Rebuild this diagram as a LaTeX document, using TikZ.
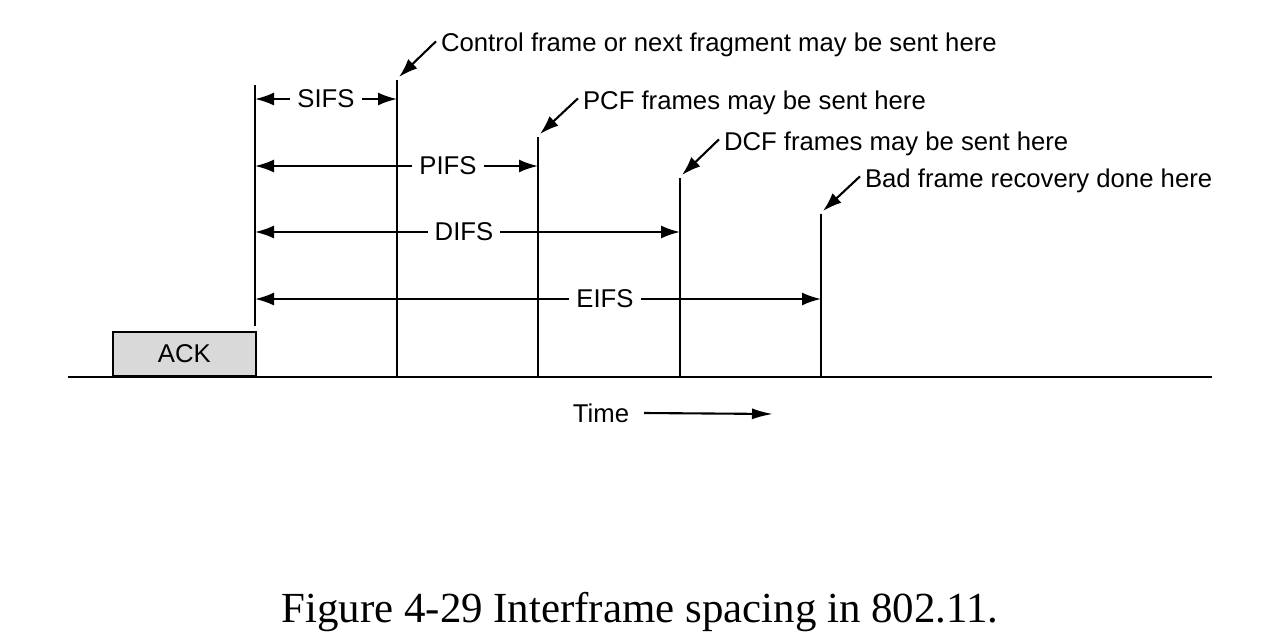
\documentclass[tikz,border=0pt]{standalone}
\usepackage{fontspec}
\setmainfont{Liberation Sans}
\newfontfamily\capfont{Liberation Serif}
\usetikzlibrary{arrows.meta}
\begin{document}
\begin{tikzpicture}[x=1pt,y=-1pt, line width=2.1pt,
  txt/.style={font=\fontsize{25.7}{30}\selectfont, inner sep=0pt},
  lab/.style={txt, anchor=base west},
  dim/.style={txt, inner sep=6pt},
  tip/.style={-{Latex[length=19pt,width=13pt]}},
  ttip/.style={-{Latex[length=21pt,width=11pt]}}]
\useasboundingbox (0,0) rectangle (1280,642);

% vertical lines
\coordinate (t0) at (255,85);  \coordinate (b0) at (255,326);
\coordinate (t1) at (397,80);  \coordinate (b1) at (397,377);
\coordinate (t2) at (538,137); \coordinate (b2) at (538,377);
\coordinate (t3) at (680,178); \coordinate (b3) at (680,377);
\coordinate (t4) at (821,214); \coordinate (b4) at (821,377);
\draw (t0) -- (b0);
\draw (t1) -- (b1);
\draw (t2) -- (b2);
\draw (t3) -- (b3);
\draw (t4) -- (b4);

% time axis
\coordinate (axL) at (68,377); \coordinate (axR) at (1212,377);
\draw (axL) -- (axR);

% ACK box
\node[txt, draw, line width=1.8pt, fill=black!15, minimum width=143pt, minimum height=44pt,
      anchor=south west] (ack) at (112,377) {ACK};

% interval labels
\node[dim] (sifs) at (326,99) {SIFS};
\node[dim] (pifs) at (448,166) {PIFS};
\node[dim] (difs) at (464,232) {DIFS};
\node[dim] (eifs) at (605,299) {EIFS};
\draw[tip] (sifs.west) -- (t0 |- sifs.west);
\draw[tip] (sifs.east) -- (t1 |- sifs.east);
\draw[tip] (pifs.west) -- (t0 |- pifs.west);
\draw[tip] (pifs.east) -- (t2 |- pifs.east);
\draw[tip] (difs.west) -- (t0 |- difs.west);
\draw[tip] (difs.east) -- (t3 |- difs.east);
\draw[tip] (eifs.west) -- (t0 |- eifs.west);
\draw[tip] (eifs.east) -- (t4 |- eifs.east);

% annotations
\node[lab] (ctl) at (440,52) {Control frame or next fragment may be sent here};
\node[lab] (pcf) at (582,109) {PCF frames may be sent here};
\node[lab] (dcf) at (723,150) {DCF frames may be sent here};
\node[lab] (bad) at (864,187) {Bad frame recovery done here};
\draw[tip] ([xshift=-4pt,yshift=4pt]ctl.west) -- ([xshift=2pt,yshift=3pt]t1);
\draw[tip] ([xshift=-4pt,yshift=4pt]pcf.west) -- ([xshift=2pt,yshift=3pt]t2);
\draw[tip] ([xshift=-4pt,yshift=4pt]dcf.west) -- ([xshift=2pt,yshift=3pt]t3);
\draw[tip] ([xshift=-4pt,yshift=4pt]bad.west) -- ([xshift=2pt,yshift=3pt]t4);

% time arrow
\node[txt] (time) at (601,413) {Time};
\coordinate (timeEnd) at (773,414);
\draw[ttip] ([xshift=14pt]time.east) -- (timeEnd);

% caption
\node[font=\capfont\fontsize{42.9}{50}\selectfont, inner sep=0pt] (cap) at (640,612)
  {Figure 4-29 Interframe spacing in 802.11.};
\end{tikzpicture}
\end{document}
